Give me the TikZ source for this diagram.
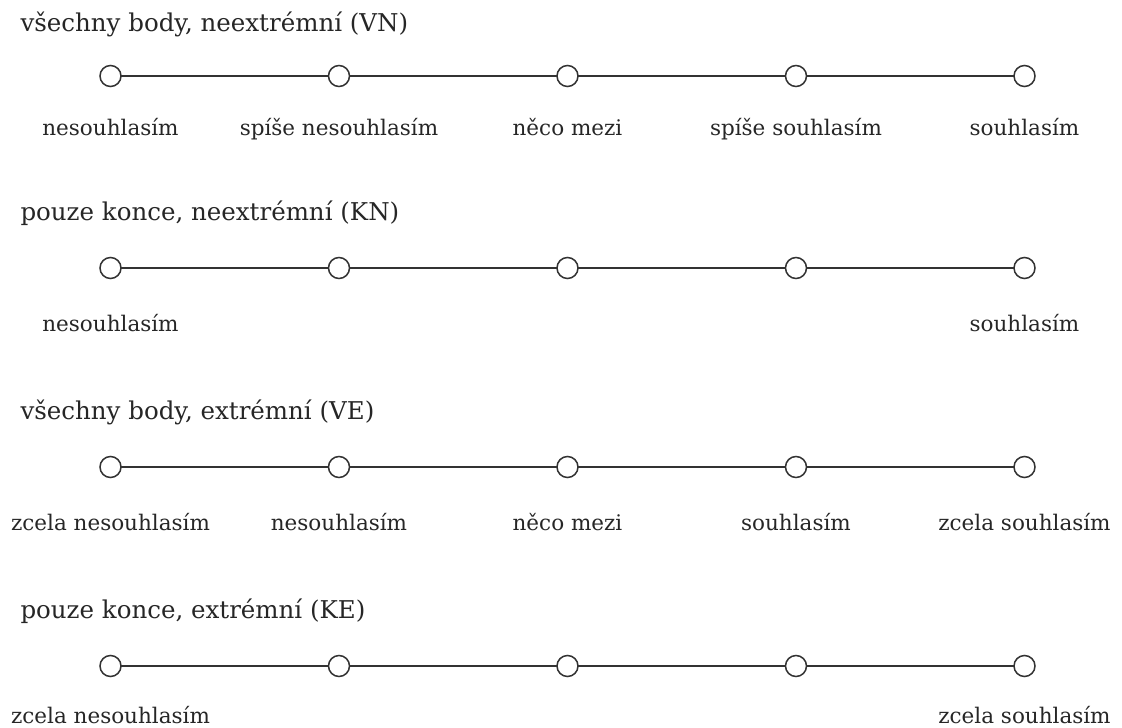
\documentclass[tikz,border=0pt]{standalone}
\usepackage{fontspec}
\setmainfont{DejaVu Serif}
\begin{document}
\begin{tikzpicture}[x=1pt,y=-1pt,
  dot/.style={circle,draw=black!80,fill=white,line width=1.5pt,minimum size=21pt,inner sep=0pt},
  bar/.style={draw=black!80,line width=1.7pt},
  title/.style={anchor=base west,font=\fontsize{24.5}{28}\selectfont,text=black!85},
  lab/.style={anchor=base,font=\fontsize{21.5}{25}\selectfont,text=black!85}]
\useasboundingbox (0,0) rectangle (1122,728);
% x positions of the five points of each scale
\def\xa{110.5}\def\xb{339}\def\xc{567.5}\def\xd{796}\def\xe{1024.5}
% row 1
\node[title] (t1) at (17,31) {všechny body, neextrémní (VN)};
\foreach \i/\x in {1/\xa,2/\xb,3/\xc,4/\xd,5/\xe}
  \coordinate (p1\i) at (\x,76);
\draw[bar] (p11) -- (p12) -- (p13) -- (p14) -- (p15);
\foreach \i in {1,...,5} \node[dot] (c1\i) at (p1\i) {};
\node[lab] (l11) at ([yshift=-59]p11) {nesouhlasím};
\node[lab] (l12) at ([yshift=-59]p12) {spíše nesouhlasím};
\node[lab] (l13) at ([yshift=-59]p13) {něco mezi};
\node[lab] (l14) at ([yshift=-59]p14) {spíše souhlasím};
\node[lab] (l15) at ([yshift=-59]p15) {souhlasím};
% row 2
\node[title] (t2) at (17,220) {pouze konce, neextrémní (KN)};
\foreach \i/\x in {1/\xa,2/\xb,3/\xc,4/\xd,5/\xe}
  \coordinate (p2\i) at (\x,268);
\draw[bar] (p21) -- (p22) -- (p23) -- (p24) -- (p25);
\foreach \i in {1,...,5} \node[dot] (c2\i) at (p2\i) {};
\node[lab] (l21) at ([yshift=-63]p21) {nesouhlasím};
\node[lab] (l25) at ([yshift=-63]p25) {souhlasím};
% row 3
\node[title] (t3) at (17,419) {všechny body, extrémní (VE)};
\foreach \i/\x in {1/\xa,2/\xb,3/\xc,4/\xd,5/\xe}
  \coordinate (p3\i) at (\x,467);
\draw[bar] (p31) -- (p32) -- (p33) -- (p34) -- (p35);
\foreach \i in {1,...,5} \node[dot] (c3\i) at (p3\i) {};
\node[lab] (l31) at ([yshift=-63]p31) {zcela nesouhlasím};
\node[lab] (l32) at ([yshift=-63]p32) {nesouhlasím};
\node[lab] (l33) at ([yshift=-63]p33) {něco mezi};
\node[lab] (l34) at ([yshift=-63]p34) {souhlasím};
\node[lab] (l35) at ([yshift=-63]p35) {zcela souhlasím};
% row 4
\node[title] (t4) at (17,618) {pouze konce, extrémní (KE)};
\foreach \i/\x in {1/\xa,2/\xb,3/\xc,4/\xd,5/\xe}
  \coordinate (p4\i) at (\x,666);
\draw[bar] (p41) -- (p42) -- (p43) -- (p44) -- (p45);
\foreach \i in {1,...,5} \node[dot] (c4\i) at (p4\i) {};
\node[lab] (l41) at ([yshift=-57]p41) {zcela nesouhlasím};
\node[lab] (l45) at ([yshift=-57]p45) {zcela souhlasím};
\end{tikzpicture}
\end{document}
